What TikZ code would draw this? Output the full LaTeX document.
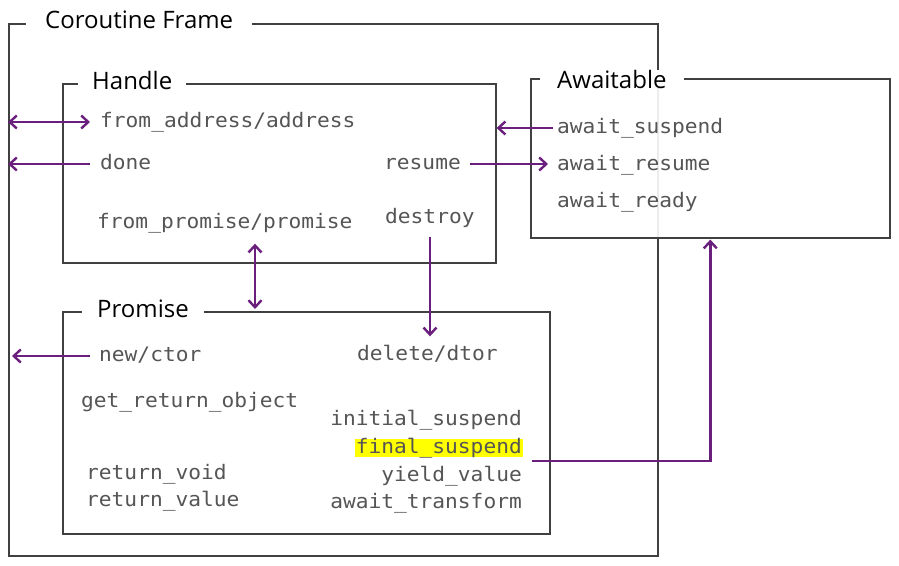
\documentclass[tikz,border=0pt]{standalone}
\usepackage{fontspec}
\usetikzlibrary{arrows.meta}
\setmainfont{Open Sans}
\newfontfamily\monof{DejaVu Sans Mono}[FakeStretch=1.06]
\definecolor{boxc}{HTML}{404040}
\definecolor{txtc}{HTML}{555555}
\definecolor{arrc}{HTML}{6A1F7C}
\definecolor{hl}{HTML}{FFFF00}
\tikzset{
  box/.style={draw=boxc, line width=1.6pt, anchor=north west, inner sep=0pt},
  ttl/.style={fill=white, anchor=west, inner ysep=0pt, font=\fontsize{24}{28}\selectfont, text=black},
  fn/.style={inner sep=0pt, font=\monof\fontsize{20}{24}\selectfont, text=txtc, text height=11pt, text depth=0pt},
  tip/.tip={Straight Barb[length=7pt,width=13pt,line width=2.4pt]},
  arr/.style={draw=arrc, line width=2.4pt, arrows={-tip}},
  darr/.style={draw=arrc, line width=2.4pt, arrows={tip-tip}}
}
\begin{document}
\begin{tikzpicture}[x=1pt,y=-1pt]
\useasboundingbox[fill=white] (0,0) rectangle (899,565);
% boxes
\node[box, minimum width=649pt, minimum height=532pt] (frame) at (8,23) {};
\node[box, minimum width=433pt, minimum height=179pt] (handle) at (62,83) {};
\node[box, minimum width=487pt, minimum height=222pt] (promise) at (62,311) {};
\node[box, fill=white, fill opacity=0.9, minimum width=359pt, minimum height=159pt] (await) at (530,78) {};
% titles
\node[ttl, inner xsep=19pt] (tframe) at (26,20) {Coroutine Frame};
\node[ttl, inner xsep=14pt] (thandle) at (78,80) {Handle};
\node[ttl, inner xsep=17pt] (tawait) at (540,79) {Awaitable};
\node[ttl, inner xsep=15pt] (tpromise) at (82,309) {Promise};
% handle texts
\node[fn, anchor=west] (addr) at (100,122) {from\_address/address};
\node[fn, anchor=west] (done) at (100,164) {done};
\node[fn, anchor=west] (resume) at (384,164) {resume};
\node[fn, anchor=west] (prom) at (97,223) {from\_promise/promise};
\node[fn, anchor=west] (destroy) at (385,218) {destroy};
% awaitable texts
\node[fn, anchor=west] (asusp) at (557,128) {await\_suspend};
\node[fn, anchor=west] (aresume) at (557,165) {await\_resume};
\node[fn, anchor=west] (aready) at (557,202) {await\_ready};
% promise texts
\node[fn, anchor=west] (ctor) at (99,356) {new/ctor};
\node[fn, anchor=west] (dtor) at (357,355) {delete/dtor};
\node[fn, anchor=west] (gro) at (81,402) {get\_return\_object};
\node[fn, anchor=east] (isusp) at (522,420) {initial\_suspend};
\node[fn, anchor=east, fill=hl, inner xsep=1pt, inner ysep=3.5pt] (fsusp) at (523,448) {final\_suspend};
\node[fn, anchor=east] (yv) at (522,476) {yield\_value};
\node[fn, anchor=east] (atr) at (522,503) {await\_transform};
\node[fn, anchor=west] (rvoid) at (86,474) {return\_void};
\node[fn, anchor=west] (rval) at (86,501) {return\_value};
% connectors
\draw[darr] (frame.west |- addr.west) -- ([xshift=-10pt]addr.west);
\draw[arr] ([xshift=-10pt]done.west) -- (frame.west |- done.west);
\draw[arr] ([xshift=-4pt]asusp.west) -- (handle.east |- asusp.west);
\draw[arr] ([xshift=9pt]resume.east) -- ([xshift=-9pt]aresume.west |- resume.east);
\draw[darr] ([yshift=-15pt]prom.south -| 255,0) -- ([yshift=2pt]promise.north -| 255,0);
\draw[arr] ([yshift=-13pt]destroy.south -| 430,0) -- ([yshift=13pt]dtor.north -| 430,0);
\draw[arr] ([xshift=-9pt]ctor.west) -- ([xshift=4pt]frame.west |- ctor.west);
\coordinate (fs) at ([xshift=9pt,yshift=-4pt]fsusp.south east);
\draw[arr] (fs) -| ([yshift=-1pt]await.south);
\end{tikzpicture}
\end{document}
